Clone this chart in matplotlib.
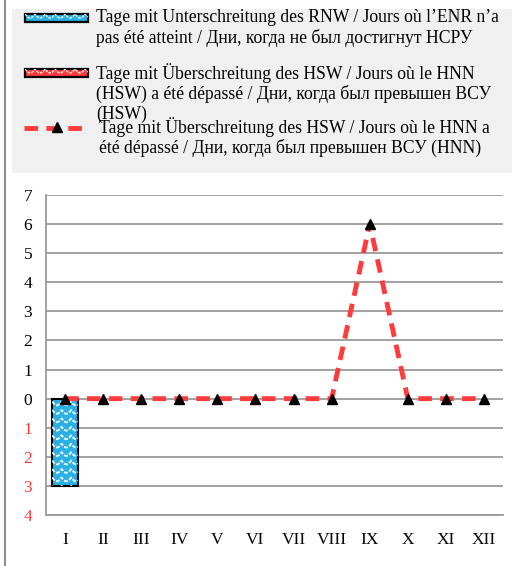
import numpy as np
import matplotlib.pyplot as plt
from matplotlib.patches import Rectangle
from matplotlib.lines import Line2D
from matplotlib.ticker import FuncFormatter

plt.rcParams['font.family'] = ['Liberation Serif', 'DejaVu Serif']

# data
months = ['I', 'II', 'III', 'IV', 'V', 'VI', 'VII', 'VIII', 'IX', 'X', 'XI', 'XII']
rnw_days = [3, 0, 0, 0, 0, 0, 0, 0, 0, 0, 0, 0]
hsw_days = [0, 0, 0, 0, 0, 0, 0, 0, 0, 0, 0, 0]
hnn_days = [0, 0, 0, 0, 0, 0, 0, 0, 6, 0, 0, 0]

labels = ["Tage mit Unterschreitung des RNW / Jours où l\u2019ENR n\u2019a\npas été atteint / Дни, когда не был достигнут НСРУ",
          "Tage mit Überschreitung des HSW / Jours où le HNN\n(HSW) a été dépassé / Дни, когда был превышен ВСУ\n(HSW)",
          "Tage mit Überschreitung des HSW / Jours où le HNN a\nété dépassé / Дни, когда был превышен ВСУ (HNN)"]

BLUE = '#29b0e4'
RED = '#ff3b3b'
GRID = '#9a9a9a'
DASH = (0, (2.8, 1.7))

W, H = 512, 566
fig = plt.figure(figsize=(W / 100, H / 100), dpi=100)

def fx(px):
    return px / W

def fy(py):
    return 1 - py / H

#white wavy fill pattern, clipped to the patch
def waves(ax, x0, x1, y0, y1, period, amp, step, clip, lw=1.0):
    xs = np.linspace(x0, x1, 300)
    y = y0
    while y < y1 + step:
        ys = y + amp * np.abs(np.sin(np.pi * (xs - x0) / period))
        l, = ax.plot(xs, ys, color='white', lw=lw, linestyle=(0, (2, 0.8)), zorder=6, alpha=0.9)
        l.set_clip_path(clip)
        y += step

# outer frame line
fig.add_artist(Line2D([fx(4.5), fx(4.5)], [0, 1], color='#8c8c8c', lw=1.5, transform=fig.transFigure))

# legend box
fig.add_artist(Rectangle((fx(12), fy(173)), fx(500), fy(9) - fy(173), transform=fig.transFigure,
                         facecolor='#f0f0f0', edgecolor='none'))
lax = fig.add_axes([0, 0, 1, 1], zorder=2)
lax.set_xlim(0, W)
lax.set_ylim(H, 0)
lax.axis('off')
p1 = Rectangle((25, 13.5), 63, 8, facecolor=BLUE, edgecolor='black', lw=1.6, zorder=5)
lax.add_patch(p1)
waves(lax, 25, 88, 14, 20, 10, 4, 12, p1, lw=1.0)
p2 = Rectangle((25, 68.5), 63, 8, facecolor=RED, edgecolor='black', lw=1.6, zorder=5)
lax.add_patch(p2)
waves(lax, 25, 88, 69, 75, 10, 4, 12, p2, lw=1.0)
lax.plot([24, 86], [128, 128], color=RED, lw=3.5, linestyle=DASH)
lax.plot([57], [127], marker='^', color='black', markersize=7.5)
fs = 12.7
lax.text(96, 28, labels[0], fontsize=fs, va='center', ha='left', linespacing=1.15)
lax.text(96, 93, labels[1], fontsize=fs, va='center', ha='left', linespacing=1.15)
lax.text(99, 137, labels[2], fontsize=fs, va='center', ha='left', linespacing=1.15)

# chart
ax = fig.add_axes([fx(46), fy(515), fx(457), fy(195) - fy(515)])
x = np.arange(len(months))
neg = -np.array(rnw_days)
bars = ax.bar(x, neg, width=0.68, color=BLUE, edgecolor='black',
              lw=[1.5 if v else 0 for v in neg], zorder=3)
ax.bar(x, hsw_days, width=0.68, color=RED, edgecolor='black',
       lw=[1.5 if v else 0 for v in hsw_days], zorder=3)
for b, v in zip(bars, neg):
    if v != 0:
        waves(ax, b.get_x(), b.get_x() + b.get_width(), v, 0, 0.25, -0.13, 0.29, b, lw=1.4)
ax.plot(x, hnn_days, color=RED, lw=3.5, linestyle=DASH, zorder=7)
ax.plot(x, hnn_days, linestyle='none', marker='^', color='black', markersize=7.5, zorder=8)

ax.set_xlim(-0.5, len(months) - 0.5)
ax.set_ylim(-4, 7)
ax.set_yticks(range(-4, 8))
ax.yaxis.set_major_formatter(FuncFormatter(lambda v, p: '%d' % abs(v)))
for t, v in zip(ax.get_yticklabels(), range(-4, 8)):
    if v < 0:
        t.set_color(RED)
ax.set_xticks(x)
ax.set_xticklabels(months)
ax.tick_params(length=0, labelsize=12.5)
ax.tick_params(axis='y', pad=10)
ax.tick_params(axis='x', pad=12)
ax.grid(axis='y', color=GRID, lw=1.3)
ax.set_axisbelow(True)
for s in ['top', 'right']:
    ax.spines[s].set_visible(False)
for s in ['left', 'bottom']:
    ax.spines[s].set_color(GRID)
    ax.spines[s].set_linewidth(1.3)

fig.savefig('out.png', dpi=100)
